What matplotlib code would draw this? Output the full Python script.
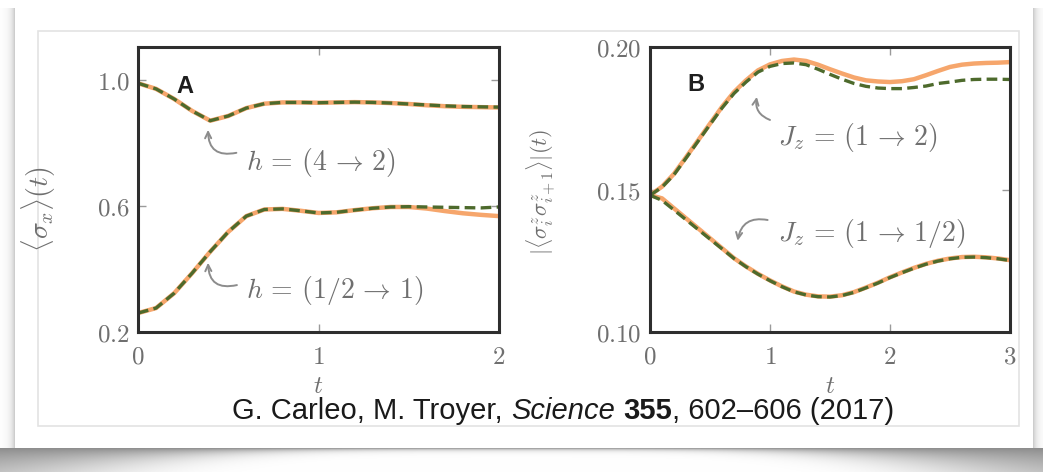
import matplotlib
matplotlib.use('Agg')
from matplotlib import pyplot as plt
from matplotlib.patches import Rectangle
import numpy as np

plt.rcParams['mathtext.fontset'] = 'cm'

# ---- data ----
t_a = [0.0, 0.1, 0.2, 0.3, 0.4, 0.5, 0.6, 0.7, 0.8, 0.9, 1.0,
       1.1, 1.2, 1.3, 1.4, 1.5, 1.6, 1.7, 1.8, 1.9, 2.0]
# h = (4 -> 2)
sx_h42_exact = [0.990, 0.972, 0.940, 0.902, 0.871, 0.886, 0.911, 0.925, 0.929, 0.929,
                0.928, 0.929, 0.930, 0.929, 0.927, 0.924, 0.920, 0.917, 0.915, 0.914, 0.913]
sx_h42_nqs = [0.990, 0.972, 0.940, 0.902, 0.871, 0.886, 0.911, 0.925, 0.929, 0.929,
              0.928, 0.929, 0.930, 0.929, 0.927, 0.924, 0.921, 0.918, 0.916, 0.915, 0.914]
# h = (1/2 -> 1)
sx_h12_exact = [0.260, 0.276, 0.323, 0.387, 0.455, 0.518, 0.568, 0.589, 0.591, 0.585,
                0.578, 0.580, 0.587, 0.593, 0.597, 0.597, 0.592, 0.584, 0.577, 0.572, 0.568]
sx_h12_nqs = [0.260, 0.276, 0.323, 0.387, 0.455, 0.518, 0.568, 0.589, 0.591, 0.585,
              0.578, 0.580, 0.587, 0.593, 0.597, 0.598, 0.597, 0.596, 0.595, 0.594, 0.597]

t_b = [0.0, 0.1, 0.2, 0.3, 0.4, 0.5, 0.6, 0.7, 0.8, 0.9, 1.0,
       1.1, 1.2, 1.3, 1.4, 1.5, 1.6, 1.7, 1.8, 1.9, 2.0,
       2.1, 2.2, 2.3, 2.4, 2.5, 2.6, 2.7, 2.8, 2.9, 3.0]
# Jz = (1 -> 2)
zz_j2_exact = [0.1480, 0.1510, 0.1555, 0.1613, 0.1672, 0.1731, 0.1790, 0.1842, 0.1883, 0.1918, 0.1939,
               0.1951, 0.1956, 0.1951, 0.1938, 0.1922, 0.1907, 0.1893, 0.1883, 0.1879, 0.1877,
               0.1880, 0.1887, 0.1901, 0.1916, 0.1930, 0.1938, 0.1942, 0.1944, 0.1945, 0.1947]
zz_j2_nqs = [0.1480, 0.1508, 0.1552, 0.1610, 0.1669, 0.1728, 0.1786, 0.1837, 0.1877, 0.1912, 0.1932,
             0.1942, 0.1944, 0.1938, 0.1922, 0.1904, 0.1887, 0.1872, 0.1862, 0.1856, 0.1854,
             0.1854, 0.1858, 0.1863, 0.1872, 0.1877, 0.1883, 0.1886, 0.1887, 0.1887, 0.1886]
# Jz = (1 -> 1/2)
zz_j05_exact = [0.1480, 0.1469, 0.1434, 0.1399, 0.1364, 0.1329, 0.1294, 0.1259, 0.1230, 0.1204, 0.1181,
                0.1160, 0.1142, 0.1131, 0.1125, 0.1124, 0.1129, 0.1140, 0.1156, 0.1173, 0.1192,
                0.1209, 0.1225, 0.1239, 0.1250, 0.1258, 0.1263, 0.1264, 0.1262, 0.1258, 0.1252]
zz_j05_nqs = [0.1480, 0.1462, 0.1428, 0.1394, 0.1360, 0.1326, 0.1292, 0.1258, 0.1229, 0.1203, 0.1180,
              0.1159, 0.1141, 0.1130, 0.1124, 0.1123, 0.1128, 0.1139, 0.1155, 0.1172, 0.1191,
              0.1208, 0.1224, 0.1238, 0.1249, 0.1257, 0.1262, 0.1263, 0.1261, 0.1257, 0.1251]

a_yticks = [0.2, 0.6, 1.0]
a_yticklabels = ['$0.2$', '$0.6$', '$1.0$']
a_xticks = [0, 1, 2]
b_yticks = [0.10, 0.15, 0.20]
b_yticklabels = ['$0.10$', '$0.15$', '$0.20$']
b_xticks = [0, 1, 2, 3]

ORANGE = '#f6a66c'
GREEN = '#4d6a2c'
GREY = '#6f6f6f'
SPINE = '#2e2e2e'

W, H = 1043, 472
fig = plt.figure(figsize=(W / 100, H / 100), dpi=100)
fig.patch.set_facecolor('white')

# ---- card background with a curled shadow ----
bg = fig.add_axes([0, 0, 1, 1], zorder=-10)
bg.set_xlim(0, W)
bg.set_ylim(H, 0)
bg.axis('off')
xx, yy = np.meshgrid(np.arange(W) + 0.5, np.arange(H) + 0.5)
d = np.abs(xx - W / 2) / (W / 2)
shade = np.zeros((H, W))
below = yy > 448
L = 2.0 + 36.0 * d ** 4
shade[below] = 0.45 * np.exp(-(yy[below] - 448) / L[below])
left = xx < 15
shade[left] = np.maximum(shade[left], 0.22 * np.exp(-(15 - xx[left]) / 4.0) * (yy[left] > 8))
right = xx > 1033
shade[right] = np.maximum(shade[right], 0.22 * np.exp(-(xx[right] - 1033) / 4.0) * (yy[right] > 8))
img = 1.0 - shade
bg.imshow(np.dstack([img, img, img]), extent=(0, W, H, 0), interpolation='bilinear')
bg.add_patch(Rectangle((38, 31), 1019 - 38, 426 - 31, fill=False,
                       edgecolor='#e3e3e3', lw=1.2))


def style_axes(ax):
    for s in ax.spines.values():
        s.set_color(SPINE)
        s.set_linewidth(2.2)
    ax.tick_params(direction='in', length=6, width=1, colors='#9a9a9a',
                   labelcolor=GREY, labelsize=18, top=True, right=True)
    ax.tick_params(axis='x', pad=9)
    ax.tick_params(axis='y', pad=6)


def arrow(ax, head, tail, rad):
    ax.annotate('', xy=head, xytext=tail,
                arrowprops=dict(arrowstyle='->,head_length=0.45,head_width=0.22',
                                connectionstyle='arc3,rad=%s' % rad,
                                color='#8c8c8c', lw=1.4, shrinkA=0, shrinkB=0))


NOTE = 20

# ---- panel A ----
axa = fig.add_axes([138 / W, 1 - 332 / H, 361 / W, 285 / H])
axa.plot(t_a, sx_h42_exact, color=ORANGE, lw=3.2, solid_capstyle='butt')
axa.plot(t_a, sx_h12_exact, color=ORANGE, lw=3.2, solid_capstyle='butt')
axa.plot(t_a, sx_h42_nqs, color=GREEN, lw=2.4, dashes=(3.2, 1.6))
axa.plot(t_a, sx_h12_nqs, color=GREEN, lw=2.4, dashes=(3.2, 1.6))
axa.set_xlim(0, 2)
axa.set_ylim(0.2, 1.105)
axa.set_xticks(a_xticks)
axa.set_xticklabels(['$%d$' % v for v in a_xticks])
axa.set_yticks(a_yticks)
axa.set_yticklabels(a_yticklabels)
style_axes(axa)
axa.set_xlabel('$t$', fontsize=18, color=GREY, labelpad=4)
axa.set_ylabel(r'$\langle \sigma_x \rangle (t)$', fontsize=20, color=GREY)
axa.yaxis.set_label_coords(-0.222, 0.43)
axa.text(0.13, 0.862, 'A', transform=axa.transAxes, ha='center', va='center',
         fontsize=17, fontweight='bold', family='Liberation Sans', color='#1e1e1e')
axa.text(0.60, 0.738, r'$h\,=\,(4\,\rightarrow\,2)$', fontsize=NOTE, color=GREY, va='center')
axa.text(0.60, 0.333, r'$h\,=\,(1/2\,\rightarrow\,1)$', fontsize=NOTE, color=GREY, va='center')
arrow(axa, (0.388, 0.842), (0.545, 0.769), -0.6)
arrow(axa, (0.388, 0.420), (0.548, 0.349), -0.6)

# ---- panel B ----
axb = fig.add_axes([650 / W, 1 - 332 / H, 360 / W, 285 / H])
axb.plot(t_b, zz_j2_exact, color=ORANGE, lw=3.2, solid_capstyle='butt')
axb.plot(t_b, zz_j05_exact, color=ORANGE, lw=3.2, solid_capstyle='butt')
axb.plot(t_b, zz_j2_nqs, color=GREEN, lw=2.4, dashes=(3.2, 1.6))
axb.plot(t_b, zz_j05_nqs, color=GREEN, lw=2.4, dashes=(3.2, 1.6))
axb.set_xlim(0, 3)
axb.set_ylim(0.10, 0.20)
axb.set_xticks(b_xticks)
axb.set_xticklabels(['$%d$' % v for v in b_xticks])
axb.set_yticks(b_yticks)
axb.set_yticklabels(b_yticklabels)
style_axes(axb)
axb.set_xlabel('$t$', fontsize=18, color=GREY, labelpad=4)
axb.set_ylabel(r'$|\langle \sigma^z_i \sigma^z_{i+1} \rangle|(t)$', fontsize=16, color=GREY)
axb.yaxis.set_label_coords(-0.256, 0.49)
axb.text(0.128, 0.869, 'B', transform=axb.transAxes, ha='center', va='center',
         fontsize=17, fontweight='bold', family='Liberation Sans', color='#1e1e1e')
axb.text(1.07, 0.1684, r'$J_z\,=\,(1\,\rightarrow\,2)$', fontsize=NOTE, color=GREY, va='center')
axb.text(1.07, 0.1347, r'$J_z\,=\,(1\,\rightarrow\,1/2)$', fontsize=NOTE, color=GREY, va='center')
arrow(axb, (0.89, 0.1825), (1.00, 0.1744), -0.4)
arrow(axb, (0.73, 0.1320), (0.98, 0.1393), 0.5)

# ---- caption, built from pieces in mixed styles ----
pieces = [('G. Carleo, M. Troyer, ', 'normal', 'normal'),
          ('Science', 'italic', 'normal'),
          (' ', 'normal', 'normal'),
          ('355', 'normal', 'bold'),
          (', 602\u2013606 (2017)', 'normal', 'normal')]
renderer = fig.canvas.get_renderer()
texts = []
for s, style, weight in pieces:
    tx = fig.text(0, 1 - 411 / H, s, fontsize=21, family='Liberation Sans',
                  style=style, weight=weight, color='#1a1a1a', va='center', ha='left')
    texts.append(tx)
widths = [tx.get_window_extent(renderer).width for tx in texts]
x0 = 563 - sum(widths) / 2
for tx, w in zip(texts, widths):
    tx.set_x(x0 / W)
    x0 += w

fig.savefig('out.png', dpi=100, facecolor='white')
